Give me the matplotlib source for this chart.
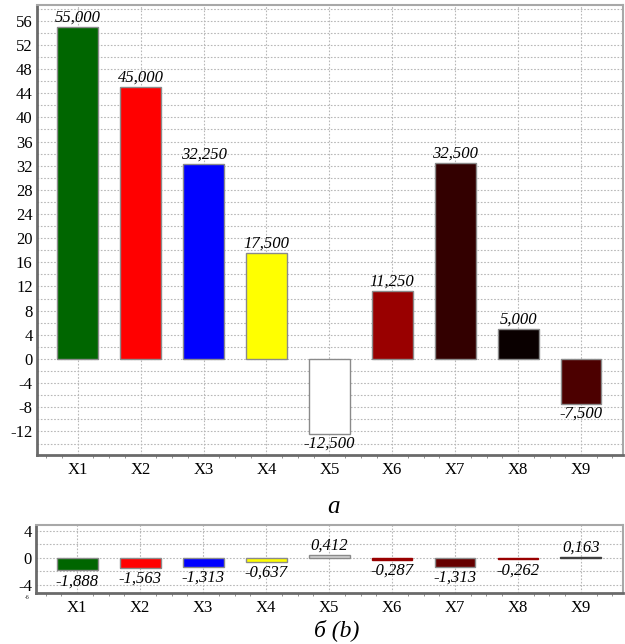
import matplotlib.pyplot as plt
from matplotlib.ticker import MultipleLocator
import numpy as np

plt.rcParams["font.family"] = ["Liberation Serif", "DejaVu Serif"]

# Дані
categories = ["X1", "X2", "X3", "X4", "X5", "X6", "X7", "X8", "X9"]
values_a = [55.0, 45.0, 32.25, 17.5, -12.5, 11.25, 32.5, 5.0, -7.5]
values_b = [-1.888, -1.563, -1.313, -0.637, 0.412, -0.287, -1.313, -0.262, 0.163]
colors_a = ["#006600", "#ff0000", "#0000ff", "#ffff00", "#ffffff",
            "#990000", "#330000", "#0a0000", "#4c0000"]
colors_b = ["#006600", "#ff0000", "#0000ff", "#ffff00", "#d4d4d4",
            "#990000", "#660000", "#990000", "#404040"]
edges_b = ["#8a8a8a", "#8a8a8a", "#8a8a8a", "#8a8a8a", "#8a8a8a",
           "#990000", "#8a8a8a", "#990000", "#404040"]


def fmt(v):
    return f"{v:.3f}".replace(".", ",")


def style_axes(ax, ylim, major, minor):
    x = np.arange(len(categories))
    ax.set_xlim(-0.65, len(categories) - 1 + 0.67)
    ax.set_ylim(*ylim)
    ax.set_xticks(x)
    ax.set_xticklabels(categories, fontsize=12)
    ax.xaxis.set_minor_locator(MultipleLocator(0.25))
    ax.yaxis.set_major_locator(MultipleLocator(major))
    ax.yaxis.set_minor_locator(MultipleLocator(minor))
    ax.tick_params(axis="y", which="both", length=0, labelsize=12, pad=3)
    ax.tick_params(axis="x", which="major", length=0, labelsize=12, pad=5)
    ax.tick_params(axis="x", which="minor", direction="out", length=2.5, color="#808080")
    ax.grid(True, which="both", axis="y", linestyle=(0, (1.5, 1.5)), color="#b8b8b8", linewidth=0.8)
    ax.grid(True, which="major", axis="x", linestyle=(0, (1.5, 1.5)), color="#b8b8b8", linewidth=0.8)
    ax.set_axisbelow(True)
    for side in ["left", "bottom"]:
        ax.spines[side].set_color("#6a6a6a")
        ax.spines[side].set_linewidth(2)
    for side in ["top", "right"]:
        ax.spines[side].set_color("#a8a8a8")
        ax.spines[side].set_linewidth(1.5)
    ax.set_yticklabels([f"{int(t)}".replace("\u2212", "-") for t in ax.get_yticks()])


fig = plt.figure(figsize=(6.25, 6.44), dpi=100)

# Верхній графік (а)
ax1 = fig.add_axes([0.059, 0.2935, 0.938, 0.6987])
x = np.arange(len(categories))
ax1.bar(x, values_a, width=0.65, color=colors_a, edgecolor="#8a8a8a", linewidth=1)
style_axes(ax1, (-15.9, 58.6), 4, 2)
for xi, v in zip(x, values_a):
    if v >= 0:
        ax1.annotate(fmt(v), (xi, v), xytext=(0, 1), textcoords="offset points",
                     ha="center", va="bottom", fontsize=12, style="italic")
    else:
        ax1.annotate(fmt(v), (xi, v), xytext=(0, -1), textcoords="offset points",
                     ha="center", va="top", fontsize=12, style="italic")

fig.text(0.533, 0.212, "а", fontsize=18, style="italic", ha="center", va="center")

# Нижній графік (б)
ax2 = fig.add_axes([0.058, 0.0792, 0.939, 0.1056])
ax2.bar(x, values_b, width=0.65, color=colors_b, edgecolor=edges_b, linewidth=1)
style_axes(ax2, (-5.23, 4.84), 4, 2)
for xi, v in zip(x, values_b):
    if v >= 0:
        ax2.annotate(fmt(v), (xi, v), xytext=(0, 1), textcoords="offset points",
                     ha="center", va="bottom", fontsize=12, style="italic")
    else:
        ax2.annotate(fmt(v), (xi, v), xytext=(0, -2), textcoords="offset points",
                     ha="center", va="top", fontsize=12, style="italic")
ax2.text(-0.012, -0.06, "-6", transform=ax2.transAxes, fontsize=4, ha="right", va="center")

fig.text(0.538, 0.022, "б (b)", fontsize=17, style="italic", ha="center", va="center")

plt.savefig("out.png", dpi=100)
